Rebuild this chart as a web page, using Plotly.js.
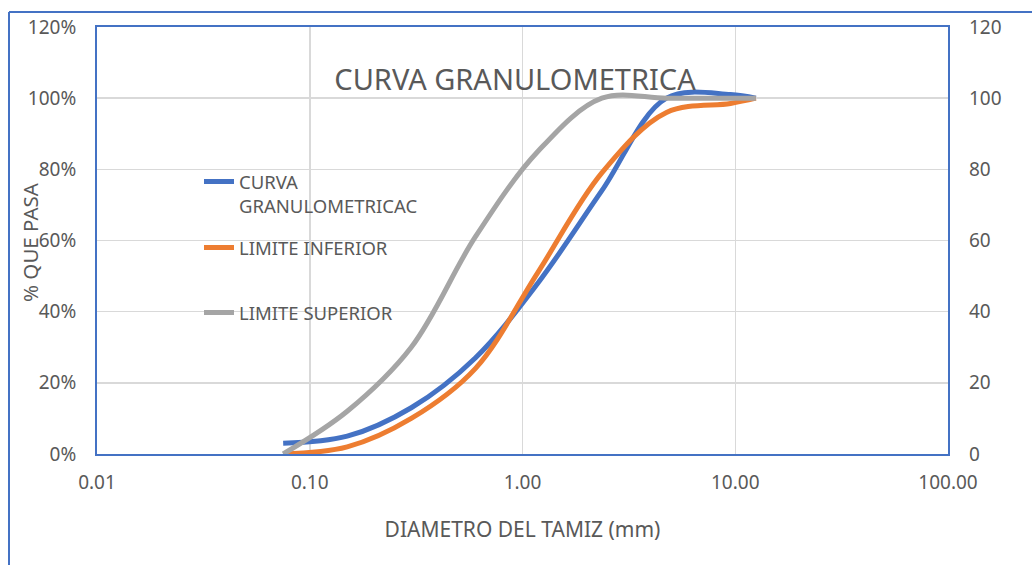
<!DOCTYPE html>
<html>
<head>
<meta charset="utf-8">
<script src="https://cdn.plot.ly/plotly-3.0.1.min.js"></script>
<style>html,body{margin:0;padding:0;background:#fff;}#chart{width:1032px;height:565px;}</style>
</head>
<body>
<div id="chart"></div>
<script>
// Sieve openings (mm)
const diametro = [12.5, 9.5, 4.75, 2.36, 1.18, 0.6, 0.3, 0.15, 0.075];
// % passing
const curvaGranulometrica = [100, 101, 100, 74, 48, 27, 13, 5, 3];
const limiteInferior = [100, 98.5, 96, 79, 51, 24, 10, 2, 0];
const limiteSuperior = [100, 100, 100, 100, 85, 61, 30, 12, 0];

const seriesNames = ["CURVA<br>GRANULOMETRICAC", "LIMITE INFERIOR", "LIMITE SUPERIOR"];
const xTickVals = [0.01, 0.1, 1, 10, 100];
const xTickText = ["0.01", "0.10", "1.00", "10.00", "100.00"];
const yTickVals = [0, 0.2, 0.4, 0.6, 0.8, 1.0, 1.2];
const yTickText = ["0%", "20%", "40%", "60%", "80%", "100%", "120%"];
const y2TickVals = [0, 20, 40, 60, 80, 100, 120];

const FONT = "Noto Sans, Open Sans, sans-serif";
const GREY = "#595959";
const BLUE_FRAME = "#4472C4";

function pct(a){ return a.map(v => v / 100); }

const traces = [
  {x: diametro, y: pct(curvaGranulometrica), name: seriesNames[0], mode: "lines",
   line: {color: "#4472C4", width: 5, shape: "spline", smoothing: 1}, legend: "legend"},
  {x: diametro, y: pct(limiteInferior), name: seriesNames[1], mode: "lines",
   line: {color: "#ED7D31", width: 5, shape: "spline", smoothing: 1}, legend: "legend2"},
  {x: diametro, y: pct(limiteSuperior), name: seriesNames[2], mode: "lines",
   line: {color: "#A5A5A5", width: 5, shape: "spline", smoothing: 1}, legend: "legend3"}
];

const W = 1032, H = 565;
const L = 97, R = 948, T = 27, B = 454;
function px(xp){ return (xp - L) / (R - L); }
function py(yp){ return (B - yp) / (B - T); }

const legendCommon = {
  font: {family: FONT, size: 18.5, color: GREY},
  bgcolor: "rgba(0,0,0,0)", borderwidth: 0,
  xanchor: "left", yanchor: "top", valign: "top", itemwidth: 30
};

const layout = {
  width: W, height: H,
  margin: {l: L, r: W - R, t: T, b: H - B, pad: 0},
  paper_bgcolor: "#fff", plot_bgcolor: "#fff",
  font: {family: FONT, color: GREY},
  title: {text: "CURVA GRANULOMETRICA", font: {family: FONT, size: 29, color: GREY},
          x: 515 / W, xanchor: "center", y: 1 - 80 / H, yanchor: "middle", xref: "container", yref: "container"},
  xaxis: {
    type: "log", range: [-2, 2], tickvals: xTickVals, ticktext: xTickText,
    showgrid: true, gridcolor: "#D9D9D9", gridwidth: 1.5, zeroline: false,
    showline: true, linecolor: BLUE_FRAME, linewidth: 2, mirror: true,
    ticks: "", ticklabelstandoff: 10,
    tickfont: {family: FONT, size: 19, color: GREY},
    title: {text: "DIAMETRO DEL TAMIZ (mm)", font: {family: FONT, size: 21, color: GREY}, standoff: 29}
  },
  yaxis: {
    range: [0, 1.2], tickvals: yTickVals, ticktext: yTickText,
    showgrid: true, gridcolor: "#D9D9D9", gridwidth: 1.5, zeroline: false,
    showline: true, linecolor: BLUE_FRAME, linewidth: 2, mirror: true,
    ticks: "", ticklabelstandoff: 15,
    tickfont: {family: FONT, size: 19, color: GREY}
  },
  yaxis2: {
    overlaying: "y", side: "right", range: [0, 120], tickvals: y2TickVals,
    showgrid: false, zeroline: false, showline: false, ticks: "", ticklabelstandoff: 20,
    tickfont: {family: FONT, size: 19, color: GREY}
  },
  legend: Object.assign({x: px(199), y: py(163)}, legendCommon),
  legend2: Object.assign({x: px(199), y: py(229)}, legendCommon),
  legend3: Object.assign({x: px(199), y: py(294)}, legendCommon),
  annotations: [
    {text: "% QUE PASA", xref: "paper", yref: "paper", x: px(30), y: py(242),
     xanchor: "center", yanchor: "middle", textangle: -90, showarrow: false,
     font: {family: FONT, size: 20.5, color: GREY}}
  ],
  shapes: [
    {type: "line", xref: "paper", yref: "paper", x0: px(9), x1: px(9), y0: py(12), y1: py(600),
     line: {color: BLUE_FRAME, width: 2}},
    {type: "line", xref: "paper", yref: "paper", x0: px(9), x1: px(1100), y0: py(12), y1: py(12),
     line: {color: BLUE_FRAME, width: 2}}
  ]
};

// right axis (0-120 scale) referenced by an invisible copy of the upper-limit series
traces.push({x: diametro, y: limiteSuperior, yaxis: "y2", mode: "lines", hoverinfo: "skip",
             line: {color: "rgba(0,0,0,0)", width: 0}, showlegend: false});

Plotly.newPlot("chart", traces, layout, {displayModeBar: false, staticPlot: true});
</script>
</body>
</html>
